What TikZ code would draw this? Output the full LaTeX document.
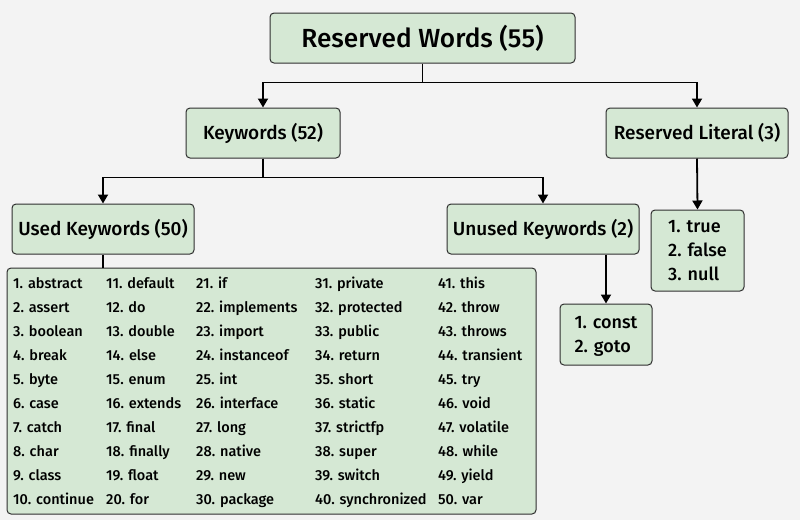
\documentclass[tikz,border=0pt]{standalone}
\usepackage{fontspec}
\setmainfont{Fira Sans}[UprightFont={* Medium}]
\usetikzlibrary{arrows.meta}
\definecolor{boxfill}{HTML}{D5E8D4}
\definecolor{boxline}{HTML}{2F2F2F}
\definecolor{paper}{HTML}{F3F3F3}
\tikzset{
	box/.style={draw=boxline,fill=boxfill,rounded corners=4pt,line width=1pt,inner sep=0pt},
	title/.style={box,minimum height=50pt,font=\fontsize{19}{22}\selectfont},
	link/.style={line width=1.8pt,-{Triangle[length=9pt,width=10pt]}},
	plain/.style={line width=1.8pt},
	word/.style={anchor=base west,inner sep=0pt,font=\fontsize{14.5}{16}\selectfont}
}
\begin{document}
\begin{tikzpicture}[x=1pt,y=-1pt]
	\fill[paper] (0,0) rectangle (800,520) ;
	\useasboundingbox (0,0) rectangle (800,520) ;
	% boxes
	\node[box,minimum width=305pt,minimum height=50pt,font=\fontsize{26.2}{30}\selectfont] (root) at (422.5,38) {Reserved Words (55)} ;
	\node[title,minimum width=154pt] (kw) at (263,133) {Keywords (52)} ;
	\node[title,minimum width=182pt] (lit) at (697,133) {Reserved Literal (3)} ;
	\node[title,minimum width=182pt] (used) at (103,229) {Used Keywords (50)} ;
	\node[title,minimum width=192pt] (unused) at (543,229) {Unused Keywords (2)} ;
	\node[box,minimum width=529pt,minimum height=246pt] (usedlist) at (271.5,391) {} ;
	\node[box,minimum width=92pt,minimum height=61pt,align=left,font=\fontsize{18}{24.5}\selectfont,text depth=0pt] (unusedlist) at (606,334.5) {1. const\\2. goto} ;
	\node[box,minimum width=93pt,minimum height=81pt,align=left,font=\fontsize{18}{24}\selectfont] (litlist) at (697.5,250.5) {1. true\\2. false\\3. null} ;
	% used keywords
	\foreach \w [count=\i from 0] in {abstract,assert,boolean,break,byte,case,catch,char,class,continue,
		default,do,double,else,enum,extends,final,finally,float,for,
		if,implements,import,instanceof,int,interface,long,native,new,package,
		private,protected,public,return,short,static,strictfp,super,switch,synchronized,
		this,throw,throws,transient,try,void,volatile,while,yield,var} {
		\pgfmathsetmacro\colx{{13,106,196,315,438}[int(\i/10)]}
		\pgfmathsetmacro\rowy{288.5+24*mod(\i,10)}
		\pgfmathtruncatemacro\num{\i+1}
		\node[word] (w\num) at (\colx,\rowy) {\num. \w} ;
	}
	% connectors
	\draw[link] (root.south) -- ++(0,19) -| (kw.north) ;
	\draw[link] (root.south) -- ++(0,19) -| (lit.north) ;
	\draw[link] (kw.south) -- ++(0,19) -| (used.north) ;
	\draw[link] (kw.south) -- ++(0,19) -| (unused.north) ;
	\draw[plain] (used.south) -- (used.south |- usedlist.north) ;
	\draw[link] (unusedlist.north |- unused.south) -- (unusedlist.north) ;
	\draw[link] (lit.south) -- (litlist.north) ;
\end{tikzpicture}
\end{document}
